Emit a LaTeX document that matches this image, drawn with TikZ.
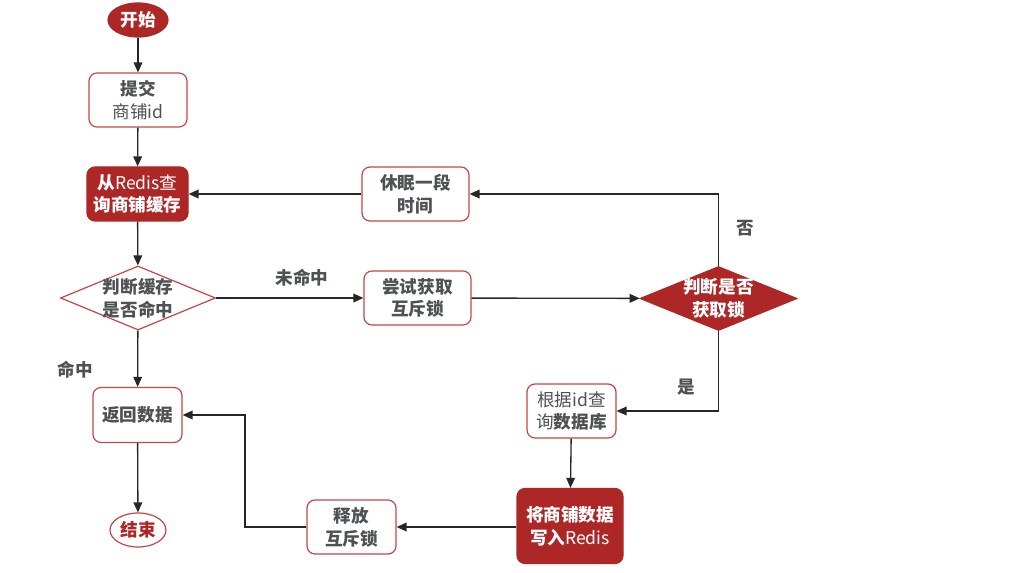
\documentclass[tikz,border=0pt]{standalone}
\usepackage{fontspec}
\setmainfont{Noto Sans CJK SC}
\usetikzlibrary{shapes.geometric,arrows.meta}
\definecolor{darkred}{RGB}{173,39,39}
\definecolor{edgered}{RGB}{196,70,70}
\definecolor{txtgray}{RGB}{78,82,82}

\begin{document}
\begin{tikzpicture}[x=0.75pt,y=0.75pt,yscale=-1,xscale=1,
  font=\fontsize{13.2}{17}\selectfont,
  box/.style={rectangle,rounded corners=6pt,draw=edgered,line width=0.9pt,fill=white,text=txtgray,align=center,inner sep=0pt,minimum width=66.75pt,minimum height=40.5pt},
  redbox/.style={box,draw=darkred,fill=darkred,text=white,font=\fontsize{13.2}{17}\selectfont\bfseries},
  terminal/.style={ellipse,draw=darkred,line width=0.9pt,inner sep=0pt,minimum width=45pt,minimum height=25.5pt,font=\fontsize{13.2}{17}\selectfont\bfseries},
  decision/.style={diamond,draw=edgered,line width=0.9pt,fill=white,text=txtgray,align=center,inner sep=-9pt,minimum width=116.25pt,minimum height=48pt,font=\fontsize{13.2}{17}\selectfont\bfseries},
  flowlabel/.style={text=txtgray,inner sep=0.75pt,font=\fontsize{13.2}{17}\selectfont\bfseries},
  flow/.style={line width=1pt,color=black!85,-{Triangle[length=7.5pt,width=6.5pt]}}]
\useasboundingbox (0,0) rectangle (1012,573);

%Shape: Ellipse [start]
\node[terminal,fill=darkred,text=white] (start) at (138,20) {开始};
%Shape: Rounded Rect [submit]
\node[box,minimum width=73.5pt] (submit) at (138,100) {\textbf{提交}\\商铺id};
%Shape: Rounded Rect [query]
\node[redbox,minimum width=75.75pt] (query) at (137.5,194) {从{\mdseries Redis查}\\询商铺缓存};
%Shape: Diamond [hit]
\node[decision] (hit) at (138,298) {判断缓存\\是否命中};
%Shape: Rounded Rect [back]
\node[box,font=\fontsize{13.2}{17}\selectfont\bfseries,minimum height=41.25pt] (back) at (137.5,415) {返回数据};
%Shape: Ellipse [finish]
\node[terminal,fill=white,text=darkred,draw=edgered,minimum width=42pt] (finish) at (138,530) {结束};
%Shape: Rounded Rect [sleep]
\node[box,font=\fontsize{13.2}{17}\selectfont\bfseries,minimum width=80.25pt] (sleep) at (415.5,194) {休眠一段\\时间};
%Shape: Rounded Rect [trylock]
\node[box,font=\fontsize{13.2}{17}\selectfont\bfseries,minimum width=80.25pt] (trylock) at (417.5,298) {尝试获取\\互斥锁};
%Shape: Diamond [getlock]
\node[decision,draw=darkred,fill=darkred,text=white,minimum width=117.75pt] (getlock) at (718.5,298.5) {判断是否\\获取锁};
%Shape: Rounded Rect [querydb]
\node[box] (querydb) at (571.5,411) {根据id查\\询\textbf{数据库}};
%Shape: Rounded Rect [save]
\node[redbox,minimum width=79.5pt,minimum height=56.25pt] (save) at (570,526) {将商铺数据\\写入{\mdseries Redis}};
%Shape: Rounded Rect [release]
\node[box,font=\fontsize{13.2}{17}\selectfont\bfseries] (release) at (351.5,527) {释放\\互斥锁};
\coordinate (bend) at (245,527);

%Straight Lines
\draw[flow] (start) -- (submit);
\draw[flow] (submit) -- (query);
\draw[flow] (query) -- (hit);
\draw[flow] (hit) -- (back);
\draw[flow] (back) -- (finish);
\draw[flow] (hit) -- (trylock);
\draw[flow] (trylock) -- (getlock);
\draw[flow] (getlock.north) |- (sleep);
\draw[flow] (sleep) -- (query);
\draw[flow] (getlock.south) |- (querydb);
\draw[flow] (querydb) -- (save);
\draw[flow] (save.west |- release.east) -- (release);
\draw[flow] (release.west) -- (bend) |- (back.east);

% Text Node
\node[flowlabel] (hitlabel) at (75,370) {命中};
% Text Node
\node[flowlabel] (misslabel) at (302,278) {未命中};
% Text Node
\node[flowlabel] (nolabel) at (745,228) {否};
% Text Node
\node[flowlabel] (yeslabel) at (686,387) {是};

\end{tikzpicture}
\end{document}
